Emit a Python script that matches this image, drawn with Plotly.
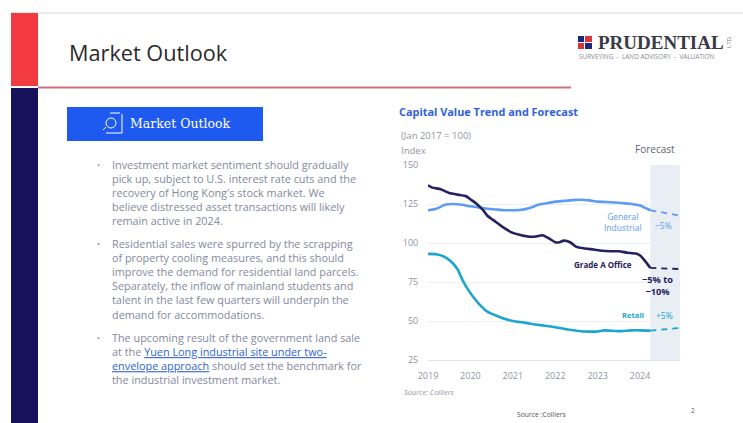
import plotly.graph_objects as go

WIDTH, HEIGHT = 743, 423

# Index series, Jan 2017 = 100
general_years = [2019.0, 2019.2, 2019.4, 2019.6, 2019.8, 2020.0, 2020.2, 2020.4, 2020.6, 2020.8,
                 2021.0, 2021.2, 2021.4, 2021.6, 2021.8, 2022.0, 2022.2, 2022.4, 2022.6, 2022.8,
                 2023.0, 2023.2, 2023.4, 2023.6, 2023.8, 2024.0, 2024.12, 2024.24]
general_values = [121, 122, 124.5, 125, 124.5, 123.5, 122.8, 122, 121.5, 121,
                  121, 121.3, 122.5, 124.5, 125.5, 126.5, 127, 127.5, 127.7, 127.3,
                  126.5, 126.3, 126, 125.5, 125, 124, 122.5, 121]
office_years = [2019.0, 2019.1, 2019.3, 2019.5, 2019.7, 2019.9, 2020.0, 2020.15, 2020.3, 2020.4,
                2020.6, 2020.8, 2021.0, 2021.2, 2021.4, 2021.55, 2021.7, 2021.85, 2022.0, 2022.1,
                2022.2, 2022.35, 2022.5, 2022.7, 2022.9, 2023.1, 2023.3, 2023.5, 2023.7, 2023.9,
                2024.0, 2024.1, 2024.2, 2024.24]
office_values = [137, 135.5, 134.5, 132, 131, 130, 128, 125, 121, 117.5,
                 113.5, 109.5, 106.5, 105, 104, 104.2, 105, 103, 100.5, 100.5,
                 101.5, 100.5, 97.5, 96.5, 95.8, 95, 94.7, 94.7, 93.8, 93.2,
                 92, 89, 85.5, 84]
retail_years = [2019.0, 2019.2, 2019.4, 2019.55, 2019.7, 2019.8, 2019.9, 2020.05, 2020.2, 2020.4,
                2020.6, 2020.8, 2021.0, 2021.3, 2021.6, 2021.9, 2022.0, 2022.2, 2022.5, 2022.8,
                2023.0, 2023.15, 2023.5, 2023.8, 2024.0, 2024.24]
retail_values = [93, 92.8, 91, 88, 83, 77, 72, 66, 61, 56,
                 53.5, 51.5, 50, 48.8, 47.5, 46.5, 46, 45, 43.8, 43.2,
                 43.3, 44, 43.5, 44, 44, 43.8]

forecast_years = [2024.24, 2024.94]
general_forecast = [121, 117.5]
office_forecast = [84, 83.3]
retail_forecast = [43.8, 45.5]

year_ticks = [2019, 2020, 2021, 2022, 2023, 2024]
index_ticks = [25, 50, 75, 100, 125, 150]

NAVY = "#17105a"
RED = "#f23b40"
BLUE = "#1f5af0"
GENERAL = "#5e9cf2"
OFFICE = "#25215f"
RETAIL = "#1ba5cf"
BODY = "#84899e"
MUTED = "#8f94a1"
LINK = "#2f5fd8"

bullet_one = ["Investment market sentiment should gradually",
              "pick up, subject to U.S. interest rate cuts and the",
              "recovery of Hong Kong's stock market. We",
              "believe distressed asset transactions will likely",
              "remain active in 2024."]
bullet_two = ["Residential sales were spurred by the scrapping",
              "of property cooling measures, and this should",
              "improve the demand for residential land parcels.",
              "Separately, the inflow of mainland students and",
              "talent in the last few quarters will underpin the",
              "demand for accommodations."]
bullet_three = ["The upcoming result of the government land sale",
                f'at the <span style="color:{LINK}"><u>Yuen Long industrial site under two-</u></span>',
                f'<span style="color:{LINK}"><u>envelope approach</u></span> should set the benchmark for',
                "the industrial investment market."]


def px(x):
    return x / WIDTH


def py(y):
    return 1 - y / HEIGHT


def label(x, y, text, size=9, color=BODY, anchor="left", family="Open Sans", **kw):
    return dict(xref="paper", yref="paper", x=px(x), y=py(y), text=text, showarrow=False,
                xanchor=anchor, yanchor="middle", align=anchor,
                font=dict(size=size, color=color, family=family),
                borderpad=0, **kw)


def box(x0, y0, x1, y1, color):
    return dict(type="rect", xref="paper", yref="paper", x0=px(x0), x1=px(x1),
                y0=py(y0), y1=py(y1), fillcolor=color, line_width=0, layer="below")


def rule(x0, y0, x1, y1, color, width):
    return dict(type="line", xref="paper", yref="paper", x0=px(x0), x1=px(x1),
                y0=py(y0), y1=py(y1), line=dict(color=color, width=width), layer="below")


fig = go.Figure()

# History lines and their dashed forecast extensions
for xs, ys, fy, color, name in [
    (general_years, general_values, general_forecast, GENERAL, "General Industrial"),
    (office_years, office_values, office_forecast, OFFICE, "Grade A Office"),
    (retail_years, retail_values, retail_forecast, RETAIL, "Retail"),
]:
    fig.add_trace(go.Scatter(x=xs, y=ys, mode="lines", name=name, showlegend=False,
                             line=dict(color=color, width=2.6, shape="spline", smoothing=0.6)))
    fig.add_trace(go.Scatter(x=forecast_years, y=fy, mode="lines", name=name + " forecast",
                             showlegend=False,
                             line=dict(color=color, width=1.8, dash="6px,5px")))

shapes = [
    # Slide frame
    rule(11, 13, 743, 13, "#d8d8d8", 1),
    box(11, 13, 38, 86, RED),
    box(11, 88, 38, 423, NAVY),
    rule(38, 87.5, 571, 87.5, "#c9737b", 2),
    box(67, 107, 263, 141, BLUE),
    # Magnifier-on-page icon inside the button
    dict(type="circle", xref="paper", yref="paper", x0=px(106), x1=px(116),
         y0=py(128), y1=py(118), line=dict(color="white", width=1)),
    rule(106, 127, 103, 130, "white", 1),
    rule(122, 114, 122, 133, "white", 1),
    rule(110, 113, 120, 113, "white", 1),
    rule(106, 133, 122, 133, "white", 1),
    # Logo mark
    box(578, 36, 584, 42, "#1b2a78"),
    box(585, 36, 592, 42, "#d8343c"),
    box(578, 43, 584, 49, "#d8343c"),
    box(585, 43, 592, 49, "#1b2a78"),
    # Forecast band
    dict(type="rect", xref="x", yref="paper", x0=forecast_years[0], x1=forecast_years[1],
         y0=py(360), y1=py(165), fillcolor="#e8eef4", line_width=0, layer="below"),
]

annotations = [
    label(68, 53, "Market Outlook", size=21.7, color="#2a2a2a"),
    label(129, 124, "Market Outlook", size=12.5, color="white", family="DejaVu Serif"),
    label(596.5, 42, "<b>PRUDENTIAL</b>", size=19, color="#3a3a44", family="Liberation Serif"),
    label(578, 57, "SURVEYING  -  LAND ADVISORY  -  VALUATION", size=6.4, color="#8a8a94"),
    label(729, 42, "LTD.", size=6, color="#777", anchor="center", textangle=-90),
    label(398, 112, "<b>Capital Value Trend and Forecast</b>", size=10.9, color="#2f62e0"),
    label(400, 135, "(Jan 2017 = 100)", size=9.5, color=MUTED),
    label(400, 150, "Index", size=9.5, color=MUTED),
    label(676, 149, "Forecast", size=10, color="#5f6478", anchor="right"),
    label(403, 392, "<i>Source: Colliers</i>", size=7.4, color=MUTED),
    label(541, 414, "Source :Colliers", size=6.8, color="#555", anchor="center"),
    label(693, 410, "2", size=6.5, color="#666", anchor="center"),
    label(623, 222, "General<br>Industrial", size=8.5, color=GENERAL, anchor="center"),
    label(663, 225, "−5%", size=8.5, color=GENERAL, anchor="center"),
    label(603, 264, "<b>Grade A Office</b>", size=8, color=OFFICE, anchor="center"),
    label(657.5, 285, "<b>−5% to<br>−10%</b>", size=9.2, color=OFFICE, anchor="center"),
    label(633, 315, "<b>Retail</b>", size=7.6, color=RETAIL, anchor="center"),
    label(664, 315, "+5%", size=8.5, color=RETAIL, anchor="center"),
]

# Body copy: one multi-line annotation per bullet so the leading stays even
for lines, first_line, middle in [
    (bullet_one, 164, 192.5),
    (bullet_two, 243, 279),
    (bullet_three, 337, 358),
]:
    annotations.append(label(96, first_line, "•", size=8))
    annotations.append(label(110.5, middle, "<br>".join(lines), size=10.85))

fig.update_layout(
    width=WIDTH, height=HEIGHT, margin=dict(l=0, r=0, t=0, b=0, autoexpand=False),
    paper_bgcolor="white", plot_bgcolor="rgba(0,0,0,0)",
    shapes=shapes, annotations=annotations, showlegend=False,
    xaxis=dict(domain=[px(428), px(680)], range=[2019, 2024.94], tickvals=year_ticks,
               showgrid=False, showline=True, linecolor="#dfe3e8", linewidth=1, zeroline=False,
               ticks="outside", ticklen=7, tickcolor="rgba(0,0,0,0)",
               tickfont=dict(size=9, color=MUTED, family="Open Sans")),
    yaxis=dict(domain=[py(360), py(165)], range=[25, 150], tickvals=index_ticks,
               showgrid=True, gridcolor="#eceff3", gridwidth=1, zeroline=False, showline=False,
               ticks="outside", ticklen=7, tickcolor="rgba(0,0,0,0)",
               tickfont=dict(size=9, color=MUTED, family="Open Sans")),
)

fig.write_html("out.html", config=dict(displayModeBar=False))
